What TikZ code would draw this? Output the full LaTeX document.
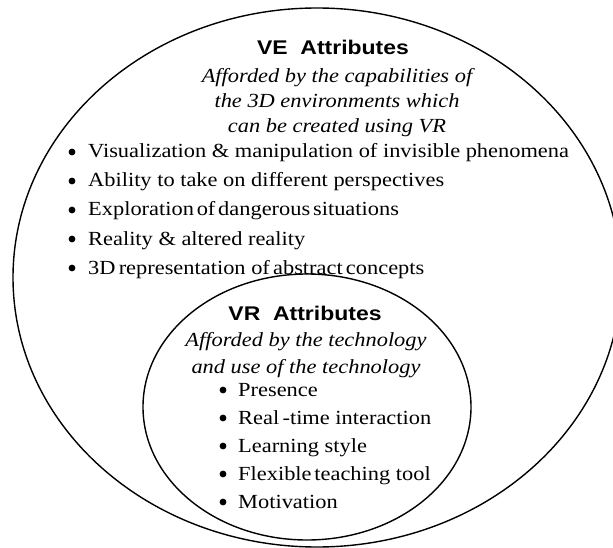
\documentclass[tikz,border=0pt]{standalone}
\usepackage{fontspec}
\setmainfont{Liberation Serif}[FakeStretch=1.12]
\newfontfamily\titlefont{Liberation Sans}[FakeStretch=1.16]
\begin{document}
\begin{tikzpicture}[x=1pt,y=-1pt,
  ring/.style={draw=black,line width=1.4pt},
  ttl/.style={inner sep=0pt,anchor=base,font=\titlefont\bfseries\fontsize{19.8}{22}\selectfont},
  itl/.style={inner sep=0pt,anchor=base,font=\itshape\fontsize{20}{22}\selectfont},
  itm/.style={inner sep=0pt,anchor=base west,font=\fontsize{20}{22}\selectfont},
  dot/.style={circle,fill=black,inner sep=0pt,minimum size=6.8pt}]
\useasboundingbox (0,0) rectangle (613,548);
\fill[white] (0,0) rectangle (613,548);
% outer and inner ellipses
\draw[ring] (317,277.5) ellipse [x radius=304pt, y radius=269.5pt];
\draw[ring] (307,407) ellipse [x radius=164pt, y radius=133pt];
% VE block
\node[ttl] (vet) at (333,55) {VE~ Attributes};
\node[itl] (ved1) at (337,83) {Afforded by the capabilities of};
\node[itl] (ved2) at (337,108) {the 3D environments which};
\node[itl] (ved3) at (337,133) {can be created using VR};
\node[dot] (b1) at (72,152) {};
\node[dot] (b2) at (72,181) {};
\node[dot] (b3) at (72,210) {};
\node[dot] (b4) at (72,239) {};
\node[dot] (b5) at (72,268) {};
\node[itm] (ve1) at (88,158) {Visualization \& manipulation of invisible phenomena};
\node[itm] (ve2) at (88,187) {Ability to take on different perspectives};
\node[itm] (ve3) at (88,216) {Exploration\hspace{0.14em}of\hspace{0.14em}dangerous\hspace{0.14em}situations};
\node[itm] (ve4) at (88,245) {Reality \& altered reality};
\node[itm] (ve5) at (88,274) {3D\hspace{0.16em}representation of\hspace{0.16em}abstract\hspace{0.16em}concepts};
% VR block
\node[ttl] (vrt) at (305,320) {VR~ Attributes};
\node[itl] (vrd1) at (306,346) {Afforded by the technology};
\node[itl] (vrd2) at (306,373) {and use of the technology};
\node[dot] (c1) at (223,390) {};
\node[dot] (c2) at (223,418) {};
\node[dot] (c3) at (223,446) {};
\node[dot] (c4) at (223,474) {};
\node[dot] (c5) at (223,502) {};
\node[itm] (vr1) at (238,396) {Presence};
\node[itm] (vr2) at (238,424) {Real\,-time interaction};
\node[itm] (vr3) at (238,452) {Learning style};
\node[itm] (vr4) at (238,480) {Flexible\hspace{0.14em}teaching tool};
\node[itm] (vr5) at (238,508) {Motivation};
\end{tikzpicture}
\end{document}
